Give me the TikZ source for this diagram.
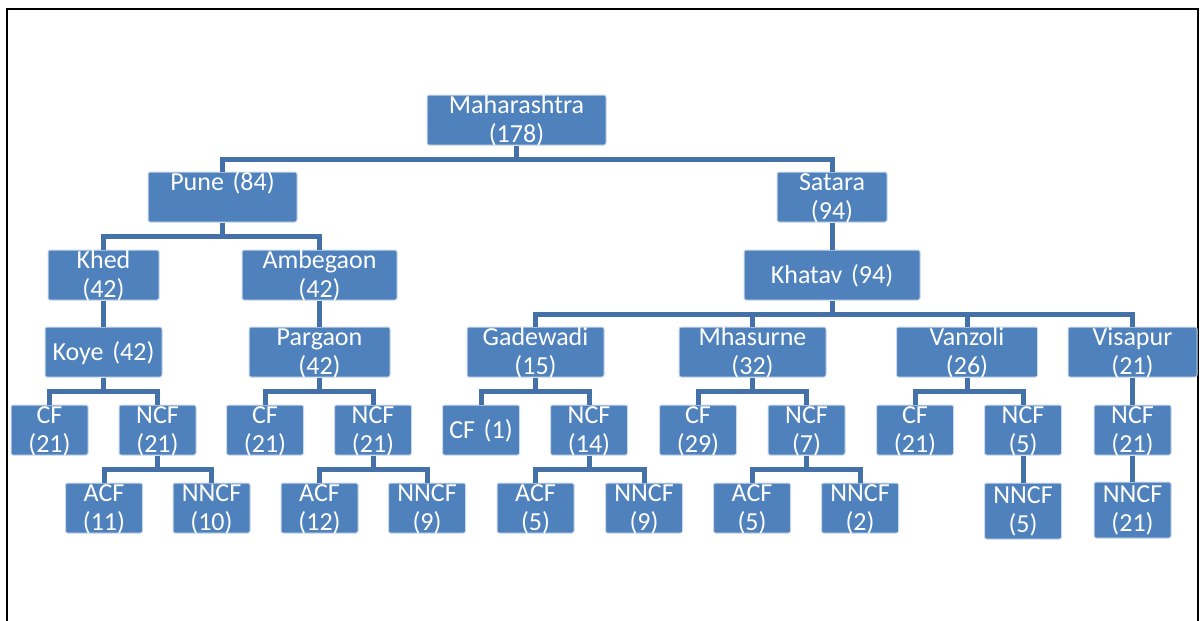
\documentclass[tikz,border=0pt]{standalone}
\usepackage{fontspec}
\setmainfont{Carlito}
\definecolor{unitblue}{RGB}{79,129,189}
\definecolor{linkblue}{RGB}{68,114,168}
\tikzset{
    unit/.style={fill=unitblue, draw=white!70!unitblue, line width=1pt, rounded corners=2pt, inner sep=0pt,
        minimum height=50pt, text height=18pt, text depth=32pt, align=center, text=white,
        font=\fontsize{26}{29}\selectfont},
    single/.style={text height=33pt, text depth=17pt},
    tall/.style={minimum height=56pt, text height=20pt, text depth=36pt},
    link/.style={draw=linkblue, line width=5pt}
}
\begin{document}
\begin{tikzpicture}[x=1pt,y=-1pt]
    \useasboundingbox (0,0) rectangle (1203,621);
    \draw[line width=2pt] (7,621) -- (7,9) -- (1198,9) -- (1198,621);

    % State %
    \node[unit, text width=179] (maha) at (516.5,120) {Maharashtra\\(178)};
    % Districts %
    \node[unit, text width=149] (pune) at (222.5,197) {Pune (84)};
    \node[unit, text width=110] (satara) at (832,197) {Satara\\(94)};
    % Talukas %
    \node[unit, text width=111] (khed) at (103.5,275) {Khed\\(42)};
    \node[unit, text width=155] (ambegaon) at (319.5,275) {Ambegaon\\(42)};
    \node[unit, single, text width=176] (khatav) at (832,275) {Khatav (94)};
    % Villages %
    \node[unit, single, text width=117] (koye) at (103.5,352) {Koye (42)};
    \node[unit, text width=141] (pargaon) at (319.5,352) {Pargaon\\(42)};
    \node[unit, text width=137] (gadewadi) at (535.5,352) {Gadewadi\\(15)};
    \node[unit, text width=147] (mhasurne) at (752.5,352) {Mhasurne\\(32)};
    \node[unit, text width=141] (vanzoli) at (967,352) {Vanzoli\\(26)};
    \node[unit, text width=129] (visapur) at (1132.5,352) {Visapur\\(21)};
    % CF and NCF %
    \node[unit, text width=77] (koyecf) at (49.5,430) {CF\\(21)};
    \node[unit, text width=77] (koyencf) at (157.5,430) {NCF\\(21)};
    \node[unit, text width=77] (pargaoncf) at (265,430) {CF\\(21)};
    \node[unit, text width=77] (pargaonncf) at (373,430) {NCF\\(21)};
    \node[unit, single, text width=77] (gadewadicf) at (481,430) {CF (1)};
    \node[unit, text width=77] (gadewadincf) at (589,430) {NCF\\(14)};
    \node[unit, text width=77] (mhasurnecf) at (698,430) {CF\\(29)};
    \node[unit, text width=77] (mhasurnencf) at (806.5,430) {NCF\\(7)};
    \node[unit, text width=77] (vanzolicf) at (915,430) {CF\\(21)};
    \node[unit, text width=77] (vanzolincf) at (1023,430) {NCF\\(5)};
    \node[unit, text width=77] (visapurncf) at (1132.5,430) {NCF\\(21)};
    % ACF and NNCF %
    \node[unit, text width=77] (koyeacf) at (104,508) {ACF\\(11)};
    \node[unit, text width=77] (koyenncf) at (211.5,508) {NNCF\\(10)};
    \node[unit, text width=77] (pargaonacf) at (319.5,508) {ACF\\(12)};
    \node[unit, text width=77] (pargaonnncf) at (427,508) {NNCF\\(9)};
    \node[unit, text width=77] (gadewadiacf) at (535.5,508) {ACF\\(5)};
    \node[unit, text width=77] (gadewadinncf) at (644,508) {NNCF\\(9)};
    \node[unit, text width=77] (mhasurneacf) at (752,508) {ACF\\(5)};
    \node[unit, text width=77] (mhasurnenncf) at (860,508) {NNCF\\(2)};
    \node[unit, tall, text width=77] (vanzolinncf) at (1023,511) {NNCF\\(5)};
    \node[unit, tall, text width=77, minimum height=54pt] (visapurnncf) at (1132.5,510) {NNCF\\(21)};

    % Links %
    \draw[link] (maha.south) -- ++(0,13.5) -| (pune.north);
    \draw[link] (maha.south) -- ++(0,13.5) -| (satara.north);
    \draw[link] (pune.south) -- ++(0,14) -| (khed.north);
    \draw[link] (pune.south) -- ++(0,14) -| (ambegaon.north);
    \draw[link] (satara.south) -- (khatav.north);
    \draw[link] (khed.south) -- (koye.north);
    \draw[link] (ambegaon.south) -- (pargaon.north);
    \draw[link] (khatav.south) -- ++(0,13.5) -| (gadewadi.north);
    \draw[link] (khatav.south) -- ++(0,13.5) -| (mhasurne.north);
    \draw[link] (khatav.south) -- ++(0,13.5) -| (vanzoli.north);
    \draw[link] (khatav.south) -- ++(0,13.5) -| (visapur.north);
    \draw[link] (koye.south) -- ++(0,14) -| (koyecf.north);
    \draw[link] (koye.south) -- ++(0,14) -| (koyencf.north);
    \draw[link] (pargaon.south) -- ++(0,14) -| (pargaoncf.north);
    \draw[link] (pargaon.south) -- ++(0,14) -| (pargaonncf.north);
    \draw[link] (gadewadi.south) -- ++(0,14) -| (gadewadicf.north);
    \draw[link] (gadewadi.south) -- ++(0,14) -| (gadewadincf.north);
    \draw[link] (mhasurne.south) -- ++(0,14) -| (mhasurnecf.north);
    \draw[link] (mhasurne.south) -- ++(0,14) -| (mhasurnencf.north);
    \draw[link] (vanzoli.south) -- ++(0,14) -| (vanzolicf.north);
    \draw[link] (vanzoli.south) -- ++(0,14) -| (vanzolincf.north);
    \draw[link] (visapur.south) -- (visapurncf.north);
    \draw[link] (koyencf.south) -- ++(0,14) -| (koyeacf.north);
    \draw[link] (koyencf.south) -- ++(0,14) -| (koyenncf.north);
    \draw[link] (pargaonncf.south) -- ++(0,14) -| (pargaonacf.north);
    \draw[link] (pargaonncf.south) -- ++(0,14) -| (pargaonnncf.north);
    \draw[link] (gadewadincf.south) -- ++(0,14) -| (gadewadiacf.north);
    \draw[link] (gadewadincf.south) -- ++(0,14) -| (gadewadinncf.north);
    \draw[link] (mhasurnencf.south) -- ++(0,14) -| (mhasurneacf.north);
    \draw[link] (mhasurnencf.south) -- ++(0,14) -| (mhasurnenncf.north);
    \draw[link] (vanzolincf.south) -- (vanzolinncf.north);
    \draw[link] (visapurncf.south) -- (visapurnncf.north);
\end{tikzpicture}
\end{document}
